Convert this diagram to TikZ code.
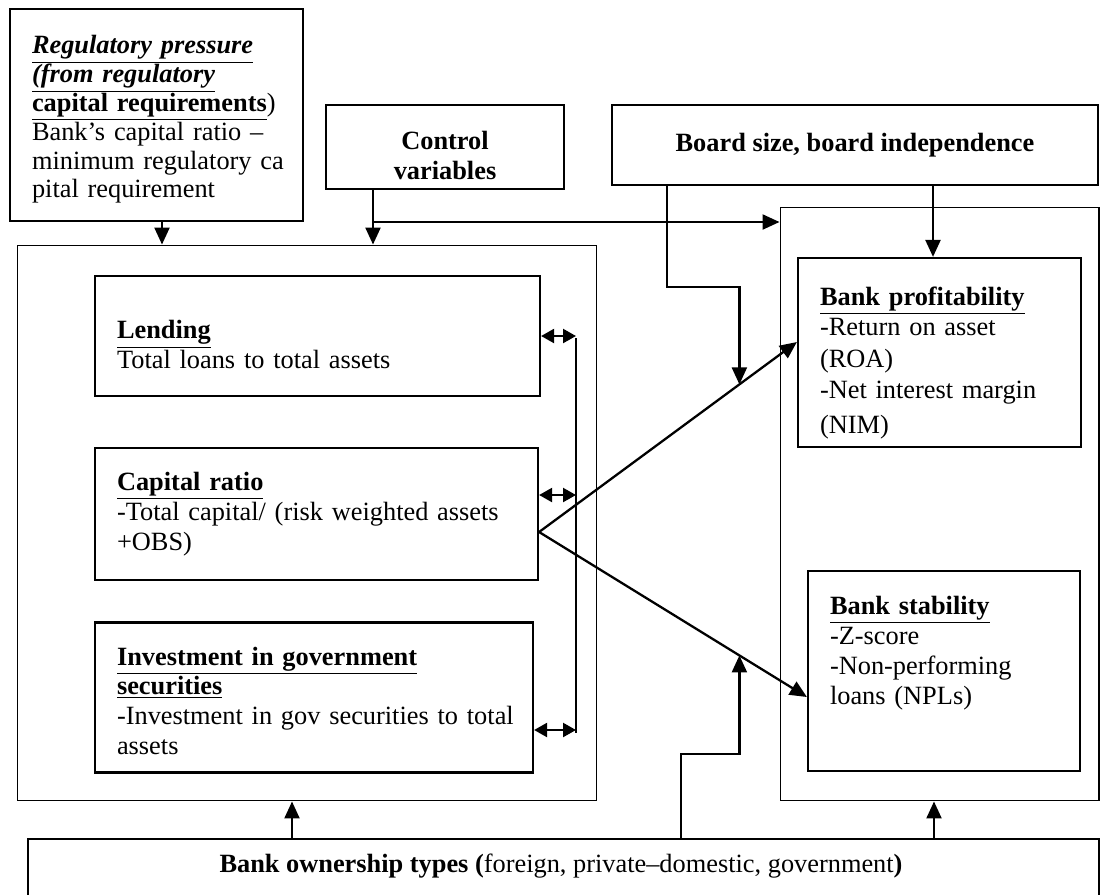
\documentclass[tikz,border=0pt]{standalone}
\usepackage{fontspec}
\setmainfont{Liberation Serif}
\usetikzlibrary{arrows.meta,calc}

\tikzset{
  box/.style={draw, line width=1.3pt, inner xsep=0.44cm, inner ysep=0.05cm, align=left},
  frame/.style={draw, line width=0.6pt},
  arr/.style={line width=1.3pt, -{Triangle[width=0.3cm,length=0.34cm]}},
  dbl/.style={line width=1.3pt, {Triangle[width=0.28cm,length=0.26cm]}-{Triangle[width=0.28cm,length=0.26cm]}},
}
\newcommand{\hd}[1]{\underline{\textbf{#1}}}

\begin{document}
\begin{tikzpicture}[x=0.02cm, y=-0.02cm, font=\fontsize{15}{17}\selectfont]
        \useasboundingbox (0,0) rectangle (1102,894);

        \node [frame, minimum width=11.6cm, minimum height=11.12cm] (leftc) at (307,523) {};
        \node [frame, minimum width=6.38cm, minimum height=11.88cm] (rightc) at (939.5,504) {};

        \node [box, text width=4.98cm, minimum height=4.24cm, font=\fontsize{15}{16.4}\selectfont] (reg) at (156.5,115)
          {\rule{0pt}{0.55cm}\underline{\textbf{\textit{Regulatory pressure}}}\\
           \underline{\textbf{\textit{(from regulatory}}}\\
           \underline{\textbf{capital requirements}})\\
           Bank’s capital ratio –\\
           \mbox{minimum regulatory ca}\\
           pital requirement};
        \node [box, align=center, minimum width=4.76cm, minimum height=1.68cm] (ctrl) at (445,147)
          {\rule{0pt}{0.7cm}\textbf{Control}\\\textbf{variables}};
        \node [box, align=center, minimum width=9.72cm, minimum height=1.6cm] (board) at (855,145)
          {\textbf{Board size, board independence}};

        \node [box, text width=8.02cm, minimum height=2.4cm] (lend) at (317.5,336)
          {\rule{0pt}{0.71cm}\hd{Lending}\\Total loans to total assets};
        \node [box, text width=7.98cm, minimum height=2.64cm] (cap) at (316.5,514)
          {\hd{Capital ratio}\\\mbox{-Total capital/ (risk weighted assets}\\+OBS)};
        \node [box, text width=7.88cm, minimum height=3cm] (inv) at (314,697.5)
          {\rule{0pt}{0.5cm}\hd{Investment in government}\\\hd{securities}\\\mbox{-Investment in gov securities to total}\\assets};

        \node [box, text width=4.78cm, minimum height=3.78cm] (prof) at (939.5,352.5)
          {\rule{0pt}{0.8cm}\hd{Bank profitability}\\-Return on asset\\[1pt](ROA)\\[1pt]-Net interest margin\\[3pt](NIM)};
        \node [box, text width=4.56cm, minimum height=4cm] (stab) at (944,671)
          {\hd{Bank stability}\\-Z-score\\-Non-performing\\loans (NPLs)\\[0.24cm]\mbox{}};

        \node [box, minimum width=21.42cm, minimum height=1.34cm, anchor=north west] (own) at (27,838) {};
        \node (ownlbl) at (561,866)
          {\textbf{Bank ownership types (}foreign, private–domestic, government\textbf{)}};

        \draw [arr] ([xshift=0.11cm]reg.south) -- ([xshift=0.11cm]reg.south |- leftc.north);

        \coordinate (cj) at (373,222);
        \draw [arr] (ctrl.south -| cj) -- (cj |- leftc.north);
        \draw [arr] (cj) -- (cj -| rightc.west);

        \draw [arr] ([yshift=-0.36cm]cap.east) coordinate (cout) -- ([yshift=0.21cm]prof.west) coordinate (pin);
        \draw [arr] (cout) -- ([yshift=-0.52cm]stab.west) coordinate (sin);
        \coordinate (pj) at ($(cout)!0.777!(pin)$);
        \coordinate (sj) at ($(cout)!0.748!(sin)$);

        \coordinate (bl) at (667,287);
        \draw [arr] (board.south -| bl) -- (bl) -| (pj);
        \draw [arr] ([xshift=-0.13cm]prof.north |- board.south) -- ([xshift=-0.13cm]prof.north);

        \coordinate (ol) at (681,754);
        \draw [arr] (own.north -| ol) -- (ol) -| (sj);
        \draw [arr] ([xshift=-0.3cm]leftc.south |- own.north) -- ([xshift=-0.3cm]leftc.south);
        \draw [arr] ([xshift=-0.11cm]rightc.south |- own.north) -- ([xshift=-0.11cm]rightc.south);

        \coordinate (vt) at (576,338);
        \coordinate (vb) at (576,733);
        \draw [frame] (vt) -- (vb);
        \draw [dbl] (lend.east) -- (lend.east -| vt);
        \draw [dbl] ([yshift=0.38cm]cap.east) -- ([yshift=0.38cm]cap.east -| vt);
        \draw [dbl] ([yshift=-0.65cm]inv.east) -- ([yshift=-0.65cm]inv.east -| vt);

      \end{tikzpicture}
\end{document}
